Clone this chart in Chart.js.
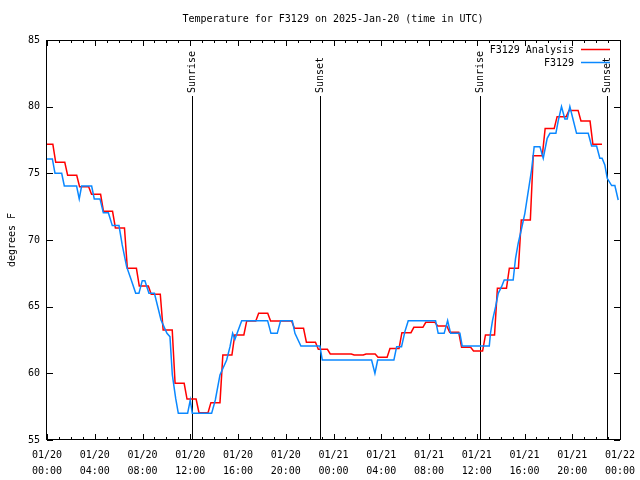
<!DOCTYPE html>
<html><head><meta charset="utf-8">
<script src="https://cdn.jsdelivr.net/npm/chart.js@4.4.1/dist/chart.umd.min.js"></script>
<style>html,body{margin:0;padding:0;background:#fff;}#wrap{width:640px;height:480px;}</style>
</head><body><div id="wrap"><canvas id="c" width="640" height="480"></canvas></div>
<script>
const chartTitle = 'Temperature for F3129 on 2025-Jan-20 (time in UTC)';
const yAxisLabel = 'degrees F';
const xTickLabels = [['01/20','00:00'],['01/20','04:00'],['01/20','08:00'],['01/20','12:00'],['01/20','16:00'],['01/20','20:00'],['01/21','00:00'],['01/21','04:00'],['01/21','08:00'],['01/21','12:00'],['01/21','16:00'],['01/21','20:00'],['01/22','00:00']];
const seriesNames = ['F3129 Analysis', 'F3129'];

// Analysis (red): hourly values, hours since 01/20 00:00 UTC
const redHours = [0,1,2,3,4,5,6,7,8,9,10,11,12,13,14,15,16,17,18,19,20,21,22,23,24,25,26,27,28,29,30,31,32,33,34,35,36,37,38,39,40,41,42,43,44,45,46];
const redTemps = [77.18,75.83,74.85,74.0,73.43,72.15,70.9,67.88,66.55,65.93,63.25,59.25,58.07,57.05,57.8,61.37,62.88,63.93,64.5,63.93,63.93,63.38,62.33,61.8,61.45,61.45,61.37,61.45,61.2,61.87,63.05,63.45,63.83,63.55,63.08,61.95,61.67,62.88,66.38,67.88,71.5,76.32,78.37,79.25,79.72,78.92,77.18];

// Observations (blue)
const blueHours = [0,0.45,0.67,1.23,1.45,2.48,2.7,2.9,3.74,3.96,4.44,4.72,5.14,5.47,6.03,6.3,6.67,7.03,7.43,7.7,7.98,8.2,8.54,9.0,9.55,10.05,10.3,10.5,10.78,11.0,11.78,12.0,12.17,13.79,14.1,14.49,15.05,15.33,15.55,15.74,16.31,18.48,18.76,19.29,19.57,20.55,20.77,21.27,22.86,23.06,27.19,27.47,27.7,29.06,29.29,29.7,29.98,30.26,32.55,32.77,33.27,33.56,33.81,34.59,34.78,37.05,37.15,37.33,37.58,37.8,38.08,38.3,39.05,39.25,39.47,39.76,40.03,40.31,40.59,40.81,41.29,41.57,41.9,42.13,42.63,42.82,43.1,43.38,43.58,43.8,44.08,44.36,45.34,45.62,46.04,46.31,46.5,46.73,46.93,47.3,47.57,47.85];
const blueTemps = [76.08,76.08,75.0,75.0,74.05,74.05,73.08,74.05,74.05,73.08,73.08,72.05,72.05,71.08,71.08,69.63,68.0,67.08,66.0,66.0,66.95,66.95,66.0,66.0,64.0,63.0,62.75,59.88,58.12,57.0,57.0,58.0,57.0,57.0,58.0,59.88,61.0,62.0,63.0,62.55,63.95,63.95,63.0,63.0,63.95,63.95,63.0,62.05,62.05,61.0,61.0,60.0,61.0,61.0,62.0,62.0,63.13,63.95,63.95,63.0,63.0,63.95,63.0,63.0,62.05,62.05,63.0,64.0,65.0,66.0,66.5,67.0,67.0,68.63,69.75,70.88,72.0,73.63,75.25,77.0,77.0,76.13,77.63,78.0,78.0,78.92,80.0,79.08,79.08,80.0,79.0,78.0,78.0,77.05,77.05,76.13,76.13,75.63,74.63,74.08,74.08,73.0];

const sunHours = [12.17, 22.89, 36.3, 46.93];
const sunLabels = ['Sunrise','Sunset','Sunrise','Sunset'];

const FONT = '"DejaVu Sans Mono", "Liberation Mono", monospace';
const RED = '#ff0000', BLUE = '#0a88ff';

// each hourly analysis value is held from shortly before the hour to shortly after
const HOLD_START = -0.27, HOLD_END = 0.49;
const redPoints = [];
redHours.forEach((h, i) => {
  redPoints.push({x: Math.max(0, h + HOLD_START), y: redTemps[i]});
  redPoints.push({x: h + HOLD_END, y: redTemps[i]});
});
const bluePoints = blueHours.map((h, i) => ({x: h, y: blueTemps[i]}));

const decor = {
  id: 'decor',
  beforeDatasetsDraw(chart) {
    const {ctx, chartArea: a, scales: {x, y}} = chart;
    ctx.save();
    ctx.strokeStyle = '#000';
    ctx.lineWidth = 1;
    ctx.beginPath();
    for (let v = 55; v <= 85; v += 5) {
      const py = Math.round(y.getPixelForValue(v)) + 0.5;
      ctx.moveTo(a.left, py); ctx.lineTo(a.left + 6, py);
      ctx.moveTo(a.right, py); ctx.lineTo(a.right - 6, py);
    }
    for (let h = 0; h <= 48; h++) {
      const px = Math.round(x.getPixelForValue(h)) + 0.5;
      const len = h % 4 === 0 ? 6 : 3;
      ctx.moveTo(px, a.bottom); ctx.lineTo(px, a.bottom - len);
      ctx.moveTo(px, a.top); ctx.lineTo(px, a.top + len);
    }
    ctx.stroke();
    ctx.font = '10px ' + FONT;
    ctx.fillStyle = '#000';
    sunHours.forEach((h, i) => {
      const px = Math.round(x.getPixelForValue(h)) + 0.5;
      ctx.beginPath();
      ctx.moveTo(px, 96); ctx.lineTo(px, a.bottom);
      ctx.stroke();
      ctx.save();
      ctx.translate(px, 93);
      ctx.rotate(-Math.PI / 2);
      ctx.textAlign = 'left';
      ctx.textBaseline = 'middle';
      ctx.fillText(sunLabels[i], 0, 0);
      ctx.restore();
    });
    ctx.strokeRect(Math.round(a.left) - 0.5, Math.round(a.top) + 0.5, Math.round(a.right - a.left) + 1, Math.round(a.bottom - a.top) - 1);
    ctx.restore();
  },
  afterDraw(chart) {
    const {ctx} = chart;
    ctx.save();
    ctx.fillStyle = '#000';
    ctx.font = '10px ' + FONT;
    ctx.textAlign = 'center';
    ctx.textBaseline = 'middle';
    ctx.fillText(chartTitle, 333, 19);
    ctx.save();
    ctx.translate(12, 240);
    ctx.rotate(-Math.PI / 2);
    ctx.fillText(yAxisLabel, 0, 0);
    ctx.restore();
    ctx.textAlign = 'right';
    const cols = [RED, BLUE];
    seriesNames.forEach((n, i) => {
      const ly = 50 + i * 13;
      ctx.fillStyle = '#000';
      ctx.fillText(n, 574, ly);
      ctx.strokeStyle = cols[i];
      ctx.lineWidth = 1.5;
      ctx.beginPath();
      ctx.moveTo(581, ly - 0.5); ctx.lineTo(610, ly - 0.5);
      ctx.stroke();
    });
    ctx.restore();
  }
};

new Chart(document.getElementById('c'), {
  type: 'line',
  data: {
    datasets: [
      {label: seriesNames[0], data: redPoints, borderColor: RED, borderWidth: 1.5, pointRadius: 0, tension: 0, fill: false, order: 1},
      {label: seriesNames[1], data: bluePoints, borderColor: BLUE, borderWidth: 1.5, pointRadius: 0, tension: 0, fill: false, order: 0}
    ]
  },
  options: {
    responsive: false,
    animation: false,
    devicePixelRatio: 1,
    layout: {padding: {left: 0, right: 20, top: 40, bottom: 0}},
    plugins: {legend: {display: false}, title: {display: false}, tooltip: {enabled: false}},
    scales: {
      x: {
        type: 'linear', min: 0, max: 48,
        grid: {display: false, drawTicks: false},
        border: {display: false},
        ticks: {
          stepSize: 4, autoSkip: false, maxRotation: 0, minRotation: 0, padding: 7,
          color: '#000', font: {family: FONT, size: 10, lineHeight: 1.6},
          callback: v => xTickLabels[v / 4]
        },
        afterFit: s => { s.height = 40; s.paddingLeft = 0; s.paddingRight = 0; }
      },
      y: {
        type: 'linear', min: 55, max: 85,
        grid: {display: false, drawTicks: false},
        border: {display: false},
        ticks: {stepSize: 5, padding: 7, color: '#000', font: {family: FONT, size: 10}},
        afterFit: s => { s.width = 47; s.paddingTop = 0; s.paddingBottom = 0; }
      }
    }
  },
  plugins: [decor]
});
</script>
</body></html>
